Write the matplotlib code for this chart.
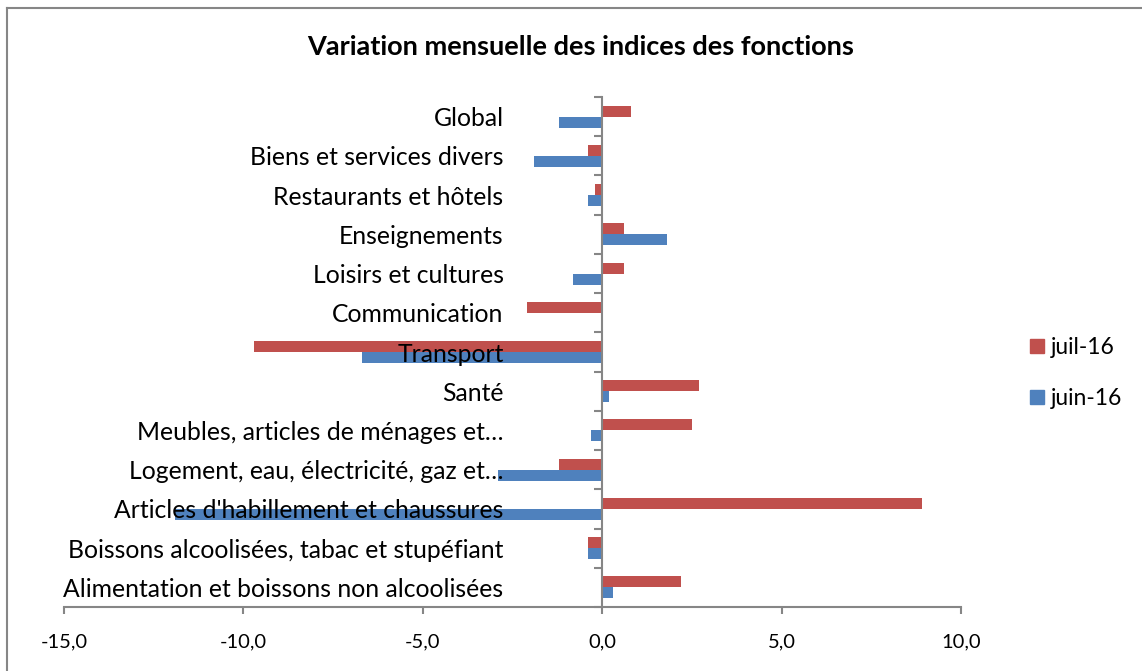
import numpy as np
import matplotlib.pyplot as plt
from matplotlib.lines import Line2D

categories = [
    "Alimentation et boissons non alcoolisées",
    "Boissons alcoolisées, tabac et stupéfiant",
    "Articles d'habillement et chaussures",
    "Logement, eau, électricité, gaz et…",
    "Meubles, articles de ménages et…",
    "Santé",
    "Transport",
    "Communication",
    "Loisirs et cultures",
    "Enseignements",
    "Restaurants et hôtels",
    "Biens et services divers",
    "Global",
]
juil_16 = [2.2, -0.4, 8.9, -1.2, 2.5, 2.7, -9.7, -2.1, 0.6, 0.6, -0.2, -0.4, 0.8]
juin_16 = [0.3, -0.4, -11.9, -2.9, -0.3, 0.2, -6.7, 0.0, -0.8, 1.8, -0.4, -1.9, -1.2]
xticks = [-15, -10, -5, 0, 5, 10]

red = "#C0504D"
blue = "#4F81BD"
grey = "#868686"

plt.rcParams['font.family'] = ['Lato', 'DejaVu Sans']

fig = plt.figure(figsize=(11.42, 6.71), dpi=100)
ax = fig.add_axes([64 / 1142, 1 - 607 / 671, (961 - 64) / 1142, (607 - 97) / 671])
ax.set_axisbelow(False)

y = np.arange(len(categories))
h = 0.28
ax.barh(y + h / 2, juil_16, height=h, color=red, label="juil-16", zorder=1)
ax.barh(y - h / 2, juin_16, height=h, color=blue, label="juin-16", zorder=1)

ax.set_xlim(-15, 10)
ax.set_ylim(-0.5, len(categories) - 0.5)
ax.set_xticks(xticks)
ax.set_xticklabels([f"{v:.1f}".replace(".", ",") for v in xticks], fontsize=14.5)
ax.tick_params(axis='x', length=5, color=grey, width=1.5, pad=14)

ax.spines['left'].set_position(('data', 0))
ax.spines['left'].set_color(grey)
ax.spines['left'].set_linewidth(1.5)
ax.spines['bottom'].set_color(grey)
ax.spines['bottom'].set_linewidth(1.5)
ax.spines['top'].set_visible(False)
ax.spines['right'].set_visible(False)

ax.set_yticks(np.arange(len(categories) + 1) - 0.5)
ax.set_yticklabels([])
ax.tick_params(axis='y', which='major', length=6, color=grey, width=1.5)
ax.set_yticks(y, minor=True)
ax.set_yticklabels(categories, minor=True, fontsize=17.8)
ax.tick_params(axis='y', which='minor', length=0, pad=71)

fig.text(0.508, 1 - 47 / 671, "Variation mensuelle des indices des fonctions",
         ha='center', va='center', fontsize=19.5, fontweight='bold')

handles = [Line2D([], [], marker='s', linestyle='', markersize=10.5, color=red),
           Line2D([], [], marker='s', linestyle='', markersize=10.5, color=blue)]
fig.legend(handles, ["juil-16", "juin-16"], loc='center left',
           bbox_to_anchor=(1003 / 1142, 1 - 373 / 671), frameon=False,
           fontsize=16.5, handletextpad=0.0, labelspacing=1.3, handlelength=1.2)

# chart frame
fig.add_artist(Line2D([7 / 1142, 7 / 1142], [0, 1 - 8 / 671], transform=fig.transFigure,
                      color=grey, linewidth=1.5))
fig.add_artist(Line2D([7 / 1142, 1], [1 - 8 / 671, 1 - 8 / 671], transform=fig.transFigure,
                      color=grey, linewidth=1.5))

fig.savefig("out.png", dpi=100)
